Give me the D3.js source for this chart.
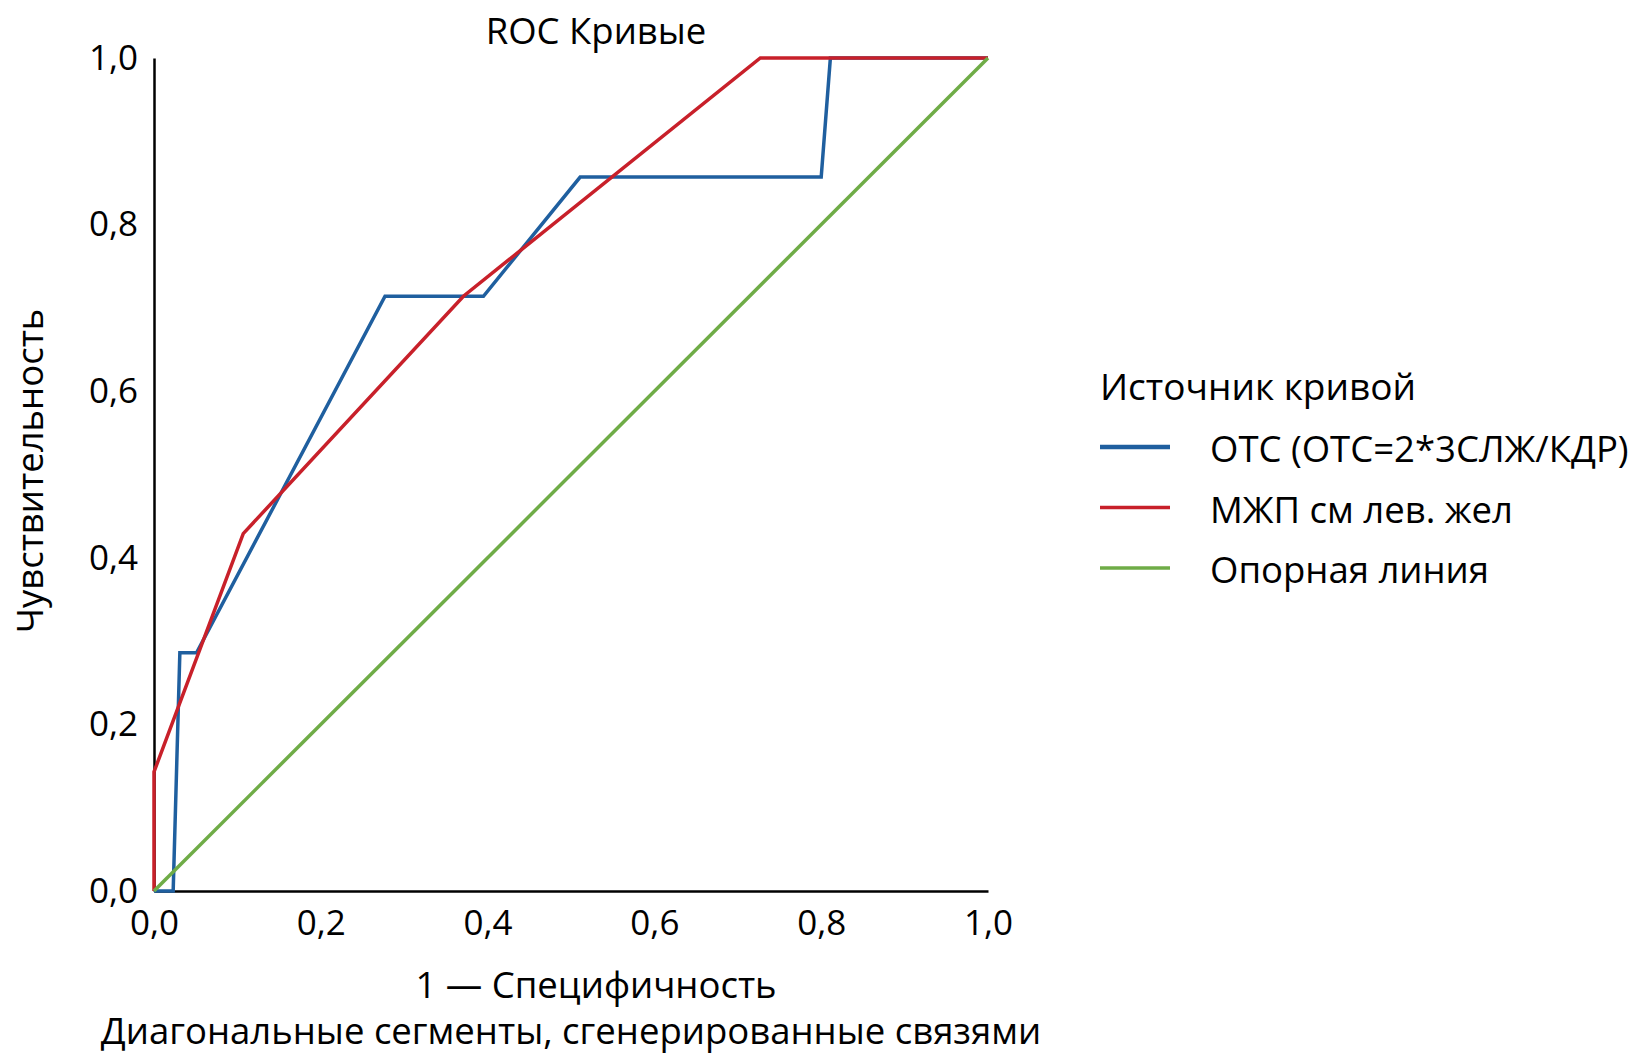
<!DOCTYPE html>
<html>
<head>
<meta charset="utf-8">
<script src="https://cdn.jsdelivr.net/npm/d3@7"></script>
<style>
  body { margin: 0; background: #fff; }
  text { font-family: "Open Sans", "Noto Sans", sans-serif; fill: #000; }
</style>
</head>
<body>
<div id="chart"></div>
<script>
// ROC curve points, [1 - specificity, sensitivity]
const otsPoints = [[0, 0], [0.023, 0], [0.031, 0.286], [0.051, 0.286], [0.277, 0.714],
  [0.395, 0.714], [0.511, 0.857], [0.800, 0.857], [0.811, 1.0], [1.0, 1.0]];
const mzhpPoints = [[0, 0], [0, 0.143], [0.107, 0.429], [0.371, 0.714], [0.727, 1.0], [1.0, 1.0]];
const refPoints = [[0, 0], [1, 1]];

const tickValues = [0, 0.2, 0.4, 0.6, 0.8, 1.0];
const seriesNames = ["ОТС (ОТС=2*3СЛЖ/КДР)", "МЖП см лев. жел", "Опорная линия"];
const seriesColors = ["#1f5f9f", "#c8202a", "#6fac47"];
const seriesData = [otsPoints, mzhpPoints, refPoints];

const W = 1639, H = 1062;
const svg = d3.select("#chart").append("svg").attr("width", W).attr("height", H);

const x = d3.scaleLinear().domain([0, 1]).range([154, 988]);
const y = d3.scaleLinear().domain([0, 1]).range([891, 58]);
const fmt = v => d3.format(".1f")(v).replace(".", ",");

// axes
const xAxis = svg.append("g").attr("transform", "translate(0,891)")
  .call(d3.axisBottom(x).tickValues(tickValues).tickFormat(fmt).tickSize(0).tickPadding(19));
const yAxis = svg.append("g").attr("transform", "translate(154,0)")
  .call(d3.axisLeft(y).tickValues(tickValues).tickFormat(fmt).tickSize(0).tickPadding(16));
[xAxis, yAxis].forEach(a => {
  a.select(".domain").attr("stroke", "#000").attr("stroke-width", 2.5);
  a.selectAll("text").attr("font-size", "35px").attr("font-family", "'Open Sans', sans-serif").attr("fill", "#000");
});

// curves: blue, then red, then the reference line on top
const line = d3.line().x(d => x(d[0])).y(d => y(d[1]));
[0, 1, 2].forEach(i => {
  svg.append("path")
    .datum(seriesData[i])
    .attr("d", line)
    .attr("fill", "none")
    .attr("stroke", seriesColors[i])
    .attr("stroke-width", 3.5)
    .attr("stroke-linejoin", "miter");
});

// titles
svg.append("text").attr("x", 596).attr("y", 44).attr("text-anchor", "middle")
  .attr("font-size", "36.5px").text("ROC Кривые");
svg.append("text").attr("x", 596).attr("y", 998).attr("text-anchor", "middle")
  .attr("font-size", "36.5px").text("1 — Специфичность");
svg.append("text").attr("x", 571).attr("y", 1044).attr("text-anchor", "middle")
  .attr("font-size", "36.5px").text("Диагональные сегменты, сгенерированные связями");
svg.append("text").attr("transform", "translate(43,471) rotate(-90)").attr("text-anchor", "middle")
  .attr("font-size", "36.5px").text("Чувствительность");

// legend
const legend = svg.append("g").attr("transform", "translate(1100,0)");
legend.append("text").attr("x", 0).attr("y", 400).attr("font-size", "37px").text("Источник кривой");
seriesNames.forEach((name, i) => {
  const ly = 447 + i * 60.5;
  legend.append("line").attr("x1", 0).attr("x2", 70).attr("y1", ly).attr("y2", ly)
    .attr("stroke", seriesColors[i]).attr("stroke-width", i === 0 ? 4.5 : 3.5);
  legend.append("text").attr("x", 110).attr("y", ly + 15).attr("font-size", "36.5px").text(name);
});
</script>
</body>
</html>
